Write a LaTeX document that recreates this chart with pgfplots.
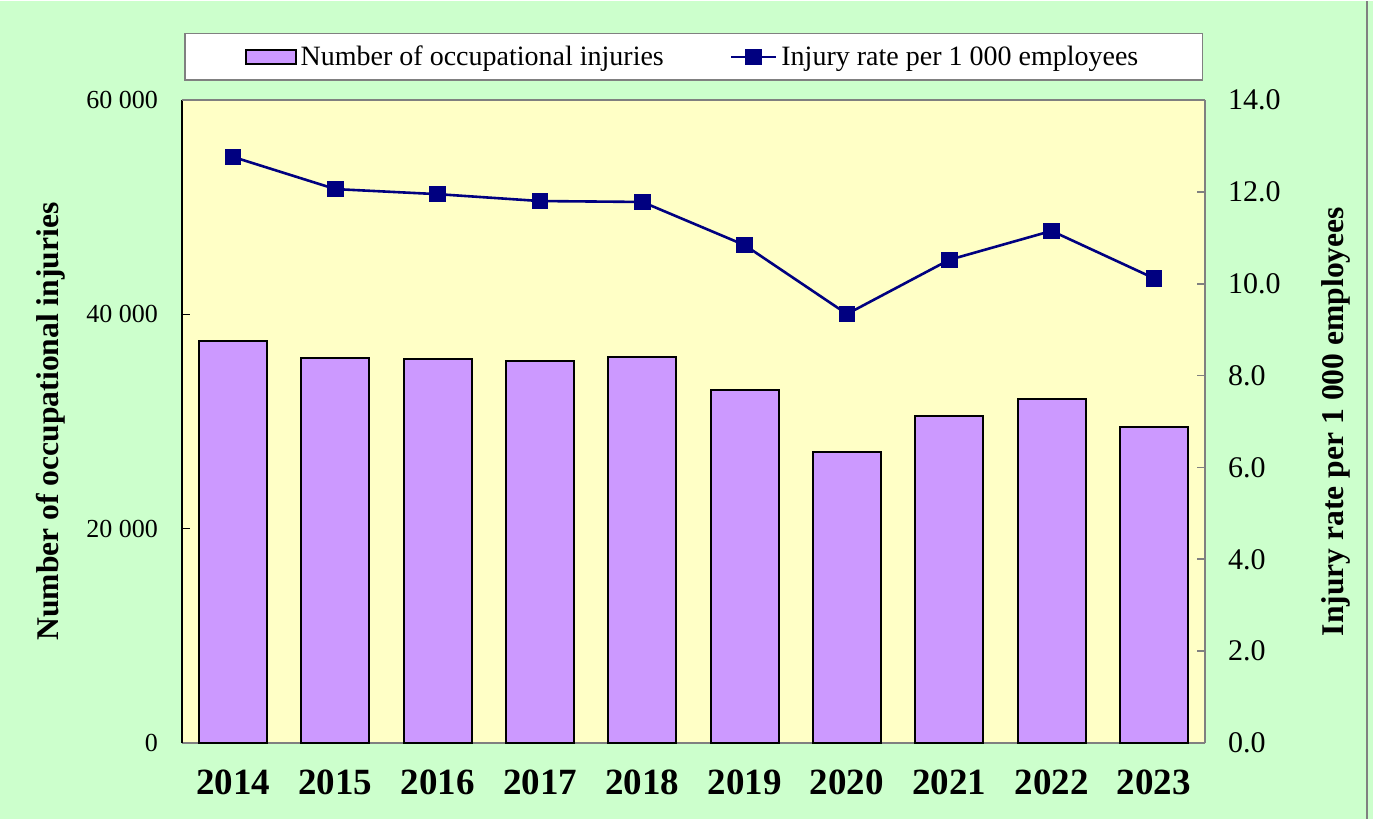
\documentclass[border=0pt]{standalone}
\usepackage{pgfplots}
\pgfplotsset{compat=1.18}
\usepackage{fontspec}
\setmainfont{Liberation Serif}
\definecolor{bg}{HTML}{CCFFCC}
\definecolor{plotbg}{HTML}{FFFFC6}
\definecolor{barfill}{HTML}{CC99FF}
\definecolor{navy}{HTML}{000080}
\definecolor{axgray}{HTML}{808080}
\begin{document}
\begin{tikzpicture}
\fill[bg] (-91pt,-38pt) rectangle (595.5pt,371pt);
\draw[axgray, line width=1pt] (592.5pt,-38pt) -- (592.5pt,371pt);
\begin{axis}[
  at={(0,0)}, anchor=south west,
  scale only axis, width=511.5pt, height=321.5pt,
  xmin=-0.5, xmax=9.5, ymin=0, ymax=60000,
  scaled y ticks=false,
  axis background/.style={fill=plotbg},
  axis y line*=left,
  axis x line*=bottom,
  x axis line style={draw=axgray, line width=1pt},
  y axis line style={draw=black, line width=1.2pt},
  xtick={0,...,9},
  xticklabels={2014,2015,2016,2017,2018,2019,2020,2021,2022,2023},
  xtick style={draw=none},
  xticklabel style={font=\fontsize{18.5}{21}\selectfont\bfseries, yshift=-6pt},
  ytick={0,20000,40000,60000},
  yticklabels={0,20 000,40 000,60 000},
  ytick style={black, line width=0.8pt},
  tick align=inside, major tick length=4pt,
  yticklabel style={font=\fontsize{13}{15}\selectfont, xshift=-8.5pt},
  ylabel={Number of occupational injuries},
  ylabel style={font=\fontsize{15.8}{18}\selectfont\bfseries, at={(axis description cs:-0.128,0.5)}, anchor=center},
  ybar, bar width=34pt,
]
\addplot[fill=barfill, draw=black, line width=1pt] coordinates {
(0,37510) (1,35925) (2,35830) (3,35645) (4,36020)
(5,32940) (6,27155) (7,30513) (8,32100) (9,29487)};
\end{axis}
\draw[axgray, line width=1pt] (0,321.5pt) -- (511.5pt,321.5pt);
\begin{axis}[
  at={(0,0)}, anchor=south west,
  scale only axis, width=511.5pt, height=321.5pt,
  xmin=-0.5, xmax=9.5, ymin=0, ymax=14,
  axis y line*=right,
  axis x line=none,
  y axis line style={draw=axgray, line width=1pt},
  ytick={0,2,...,14},
  ytick style={axgray, line width=0.8pt},
  tick align=inside, major tick length=4pt,
  yticklabel style={font=\fontsize{15}{17}\selectfont, xshift=8pt,
    /pgf/number format/.cd, fixed, fixed zerofill, precision=1, assume math mode=true},
  ylabel={Injury rate per 1 000 employees},
  ylabel style={font=\fontsize{15.8}{18}\selectfont\bfseries, at={(axis description cs:1.128,0.5)}, anchor=center},
  legend columns=2,
  legend style={at={(0.5,1)}, anchor=south, yshift=9.5pt, draw=axgray, line width=0.8pt, fill=white,
    inner xsep=30pt, inner ysep=4pt, font=\fontsize{14}{16}\selectfont,
    /tikz/every even column/.append style={column sep=31pt}},
]
\addlegendimage{legend image code/.code={\draw[fill=barfill, draw=black, line width=1pt] (0pt,-3.5pt) rectangle (25pt,3.5pt);}}
\addlegendentry{Number of occupational injuries}
\addplot[navy, line width=1.3pt, mark=square*, mark size=3.5pt, mark options={fill=navy},
  legend image code/.code={\draw[navy, line width=1.3pt] (0pt,0pt) -- (22.5pt,0pt); \fill[navy] (7.75pt,-3.5pt) rectangle (14.75pt,3.5pt);}] coordinates {
(0,12.76) (1,12.06) (2,11.95) (3,11.80) (4,11.78)
(5,10.84) (6,9.34) (7,10.52) (8,11.15) (9,10.12)};
\addlegendentry{Injury rate per 1 000 employees}
\end{axis}
\end{tikzpicture}
\end{document}
